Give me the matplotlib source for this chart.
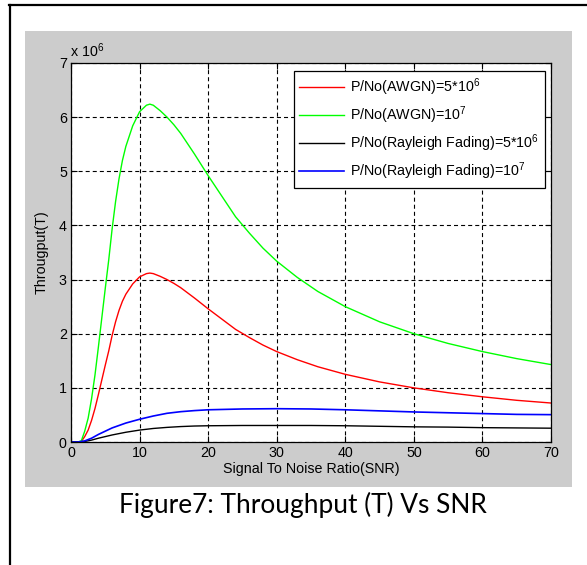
import matplotlib
matplotlib.use("Agg")
import matplotlib.pyplot as plt
from matplotlib.patches import Rectangle
from matplotlib.lines import Line2D

plt.rcParams['font.family'] = ['Liberation Sans', 'DejaVu Sans']
plt.rcParams['mathtext.fontset'] = 'custom'
plt.rcParams['mathtext.rm'] = 'Liberation Sans'
plt.rcParams['mathtext.it'] = 'Liberation Sans'
plt.rcParams['lines.scale_dashes'] = False

# ---- data (throughput in units of 1e6) ----
snr_awgn = [0, 1, 1.5, 2, 2.5, 3, 3.5, 4, 4.5, 5, 5.5, 6, 6.5, 7, 7.5, 8, 9, 10, 11,
            11.5, 12, 13, 14, 15, 16, 18, 20, 22, 24, 26, 28, 30, 33, 36, 40, 45,
            50, 55, 60, 65, 70]
awgn_5e6 = [0, 0.0, 0.01, 0.1, 0.22, 0.4, 0.62, 0.88, 1.15, 1.42, 1.68, 1.97, 2.22,
            2.43, 2.6, 2.73, 2.92, 3.05, 3.11, 3.12, 3.11, 3.06, 3.0, 2.93, 2.85,
            2.66, 2.46, 2.27, 2.08, 1.93, 1.79, 1.67, 1.52, 1.39, 1.25, 1.11, 1.0,
            0.91, 0.835, 0.77, 0.72]
awgn_1e7 = [0, 0.0, 0.02, 0.2, 0.44, 0.8, 1.24, 1.76, 2.3, 2.84, 3.36, 3.94, 4.44,
            4.86, 5.2, 5.46, 5.84, 6.1, 6.22, 6.24, 6.22, 6.12, 6.0, 5.86, 5.7,
            5.32, 4.92, 4.54, 4.16, 3.86, 3.58, 3.34, 3.04, 2.78, 2.5, 2.22, 2.0,
            1.82, 1.67, 1.54, 1.43]

snr_ray = [0, 1, 2, 3, 4, 5, 6, 8, 10, 12, 14, 16, 18, 20, 25, 30, 35, 40, 45, 50,
           55, 60, 65, 70]
ray_5e6 = [0, 0.0, 0.01, 0.035, 0.07, 0.1, 0.13, 0.18, 0.22, 0.25, 0.27, 0.285,
           0.295, 0.3, 0.305, 0.305, 0.305, 0.3, 0.29, 0.28, 0.275, 0.265, 0.26, 0.255]
ray_1e7 = [0, 0.0, 0.02, 0.07, 0.14, 0.2, 0.26, 0.35, 0.42, 0.48, 0.53, 0.56, 0.58,
           0.595, 0.61, 0.615, 0.61, 0.595, 0.575, 0.555, 0.54, 0.525, 0.51, 0.505]

labels = [r'P/No(AWGN)=5*10$^{6}$', r'P/No(AWGN)=10$^{7}$',
          r'P/No(Rayleigh Fading)=5*10$^{6}$', r'P/No(Rayleigh Fading)=10$^{7}$']
xticks = [0, 10, 20, 30, 40, 50, 60, 70]
yticks = [0, 1, 2, 3, 4, 5, 6, 7]

W, H = 587, 565
FS = 10.3
fig = plt.figure(figsize=(W / 100, H / 100), dpi=100)
fig.patch.set_facecolor('white')

def fx(px):
    return px / W

def fy(py):
    return 1 - py / H

# gray matlab figure background
fig.add_artist(Rectangle((fx(25), fy(487)), fx(572) - fx(25), fy(31) - fy(487),
                         transform=fig.transFigure, facecolor='#cccccc',
                         edgecolor='none', zorder=0))
# page border lines
fig.add_artist(Line2D([fx(10), fx(10)], [fy(5), 0], transform=fig.transFigure,
                      color='black', lw=1.6))
fig.add_artist(Line2D([fx(9), 1], [fy(5), fy(5)], transform=fig.transFigure,
                      color='black', lw=1.6))

ax = fig.add_axes([fx(71), fy(442), fx(551) - fx(71), fy(63) - fy(442)])
ax.set_facecolor('white')

ax.plot(snr_awgn, awgn_5e6, color='#ff0000', lw=1.0, label=labels[0])
ax.plot(snr_awgn, awgn_1e7, color='#00ff00', lw=1.0, label=labels[1])
ax.plot(snr_ray, ray_5e6, color='black', lw=1.0, label=labels[2])
ax.plot(snr_ray, ray_1e7, color='#0000ff', lw=1.2, label=labels[3])

ax.set_xlim(0, 70)
ax.set_ylim(0, 7)
ax.set_xticks(xticks)
ax.set_yticks(yticks)
ax.set_yticklabels([str(v) for v in yticks])
ax.tick_params(direction='in', top=True, right=True, labelsize=FS, length=4,
               width=0.8, pad=3)
ax.grid(True, color='black', linestyle=(0, (2.9, 2.2)), lw=0.8)
for s in ax.spines.values():
    s.set_linewidth(0.9)

ax.set_xlabel('Signal To Noise Ratio(SNR)', fontsize=FS, labelpad=1)
ax.set_ylabel('Througput(T)', fontsize=FS, labelpad=7)
fig.text(fx(70), fy(57), r'x 10$^{6}$', fontsize=FS, ha='left', va='baseline')

leg = ax.legend(loc='upper right', bbox_to_anchor=(fx(545), fy(71)),
                bbox_transform=fig.transFigure, borderaxespad=0, fancybox=False,
                edgecolor='black', framealpha=1, fontsize=FS, handlelength=3.1,
                labelspacing=0.45, borderpad=0.4, handletextpad=0.45)
leg.get_frame().set_linewidth(0.9)

fig.text(fx(303), fy(512.7), 'Figure7: Throughput (T) Vs SNR', fontsize=18.9,
         family='Lato', ha='center', va='baseline')

fig.savefig('out.png', dpi=100)
